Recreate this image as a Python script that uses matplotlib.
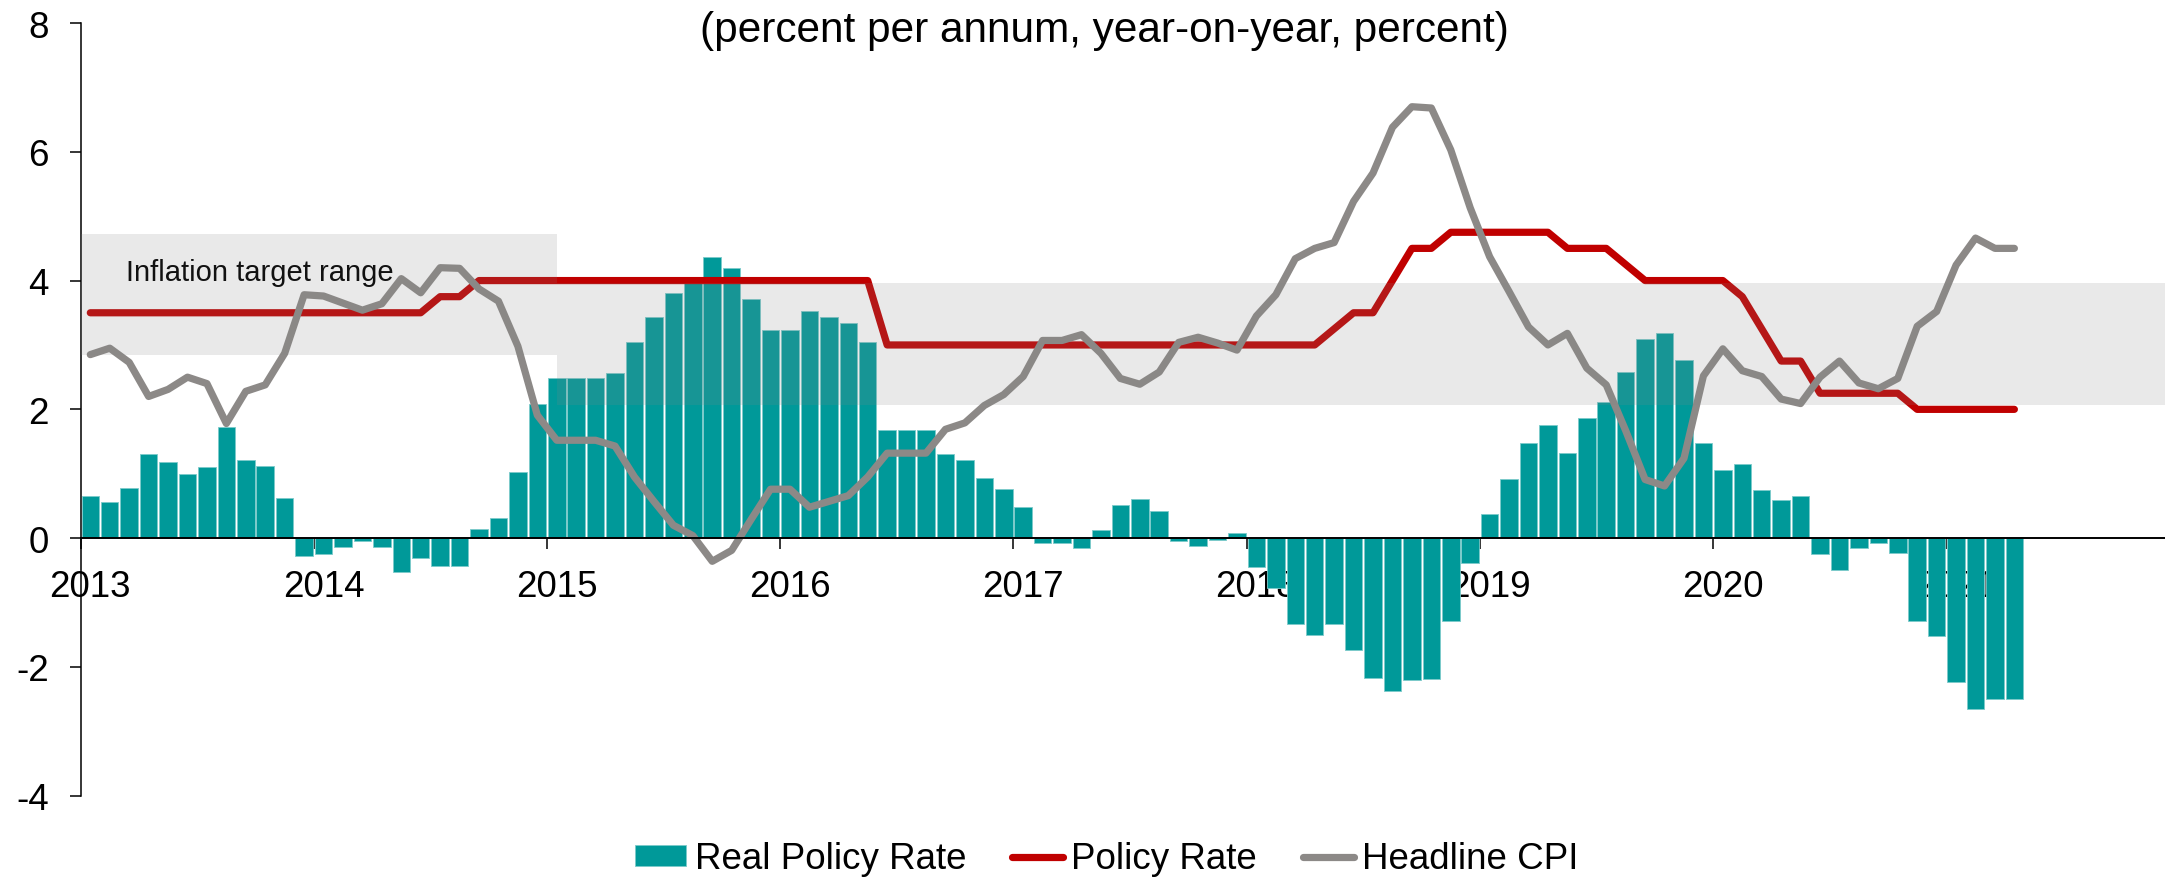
import matplotlib
matplotlib.use("Agg")
import matplotlib.pyplot as plt
import numpy as np

plt.rcParams["font.family"] = ["Liberation Sans", "DejaVu Sans"]

# monthly data, Jan 2013 - Apr 2021
years = ["2013", "2014", "2015", "2016", "2017", "2018", "2019", "2020", "2021"]

real_policy_rate = [
    0.66, 0.56, 0.78, 1.30, 1.19, 1.00, 1.10, 1.72, 1.22, 1.12, 0.63, -0.27,
    -0.25, -0.14, -0.04, -0.13, -0.53, -0.31, -0.44, -0.43, 0.14, 0.32, 1.02, 2.09,
    2.48, 2.48, 2.48, 2.57, 3.05, 3.43, 3.80, 3.96, 4.36, 4.19, 3.71, 3.24,
    3.24, 3.52, 3.43, 3.34, 3.05, 1.68, 1.68, 1.68, 1.31, 1.21, 0.94, 0.77,
    0.49, -0.07, -0.07, -0.16, 0.13, 0.52, 0.61, 0.42, -0.04, -0.12, -0.03, 0.08,
    -0.45, -0.78, -1.34, -1.50, -1.34, -1.73, -2.17, -2.38, -2.20, -2.18, -1.28, -0.38,
    0.38, 0.92, 1.47, 1.75, 1.32, 1.86, 2.12, 2.58, 3.09, 3.19, 2.76, 1.48,
    1.06, 1.15, 0.74, 0.59, 0.66, -0.25, -0.50, -0.16, -0.07, -0.23, -1.29, -1.52,
    -2.24, -2.66, -2.50, -2.50,
]

policy_rate = [
    3.5, 3.5, 3.5, 3.5, 3.5, 3.5, 3.5, 3.5, 3.5, 3.5, 3.5, 3.5,
    3.5, 3.5, 3.5, 3.5, 3.5, 3.5, 3.75, 3.75, 4.0, 4.0, 4.0, 4.0,
    4.0, 4.0, 4.0, 4.0, 4.0, 4.0, 4.0, 4.0, 4.0, 4.0, 4.0, 4.0,
    4.0, 4.0, 4.0, 4.0, 4.0, 3.0, 3.0, 3.0, 3.0, 3.0, 3.0, 3.0,
    3.0, 3.0, 3.0, 3.0, 3.0, 3.0, 3.0, 3.0, 3.0, 3.0, 3.0, 3.0,
    3.0, 3.0, 3.0, 3.0, 3.25, 3.5, 3.5, 4.0, 4.5, 4.5, 4.75, 4.75,
    4.75, 4.75, 4.75, 4.75, 4.5, 4.5, 4.5, 4.25, 4.0, 4.0, 4.0, 4.0,
    4.0, 3.75, 3.25, 2.75, 2.75, 2.25, 2.25, 2.25, 2.25, 2.25, 2.0, 2.0,
    2.0, 2.0, 2.0, 2.0,
]

headline_cpi = [
    2.85, 2.95, 2.73, 2.20, 2.31, 2.50, 2.40, 1.78, 2.28, 2.38, 2.87, 3.78,
    3.76, 3.65, 3.54, 3.64, 4.03, 3.81, 4.20, 4.19, 3.87, 3.68, 2.98, 1.91,
    1.52, 1.52, 1.52, 1.43, 0.95, 0.57, 0.20, 0.04, -0.36, -0.19, 0.29, 0.76,
    0.76, 0.48, 0.57, 0.66, 0.95, 1.32, 1.32, 1.32, 1.69, 1.79, 2.06, 2.23,
    2.51, 3.07, 3.07, 3.16, 2.87, 2.48, 2.39, 2.58, 3.04, 3.12, 3.03, 2.92,
    3.45, 3.78, 4.34, 4.50, 4.59, 5.23, 5.67, 6.38, 6.70, 6.68, 6.03, 5.13,
    4.37, 3.83, 3.28, 3.00, 3.18, 2.64, 2.38, 1.67, 0.91, 0.81, 1.24, 2.52,
    2.94, 2.60, 2.51, 2.16, 2.09, 2.50, 2.75, 2.41, 2.32, 2.48, 3.29, 3.52,
    4.24, 4.66, 4.50, 4.50,
]

# inflation target range (two regimes), start month index of each regime
target_start = [0, 24.5]
target_low = [2.85, 2.07]
target_high = [4.73, 3.96]

n_months = 108  # axis runs through Dec 2021
x = np.arange(len(real_policy_rate)) + 0.5

fig = plt.figure(figsize=(21.65, 8.79), dpi=100)
ax = fig.add_axes([80.6 / 2165, 82.3 / 879, 1 - 80.6 / 2165, (879 - 24 - 82.3) / 879])

bars = ax.bar(x, real_policy_rate, width=0.9, color="#009999",
              edgecolor="#7ccaca", linewidth=0.6, zorder=2,
              label="Real Policy Rate")
line_p, = ax.plot(x, policy_rate, color="#c00000", lw=5.2,
                  solid_capstyle="round", solid_joinstyle="round", zorder=3,
                  label="Policy Rate")
line_c, = ax.plot(x, headline_cpi, color="#8c8987", lw=5.2,
                  solid_capstyle="round", solid_joinstyle="round", zorder=3,
                  label="Headline CPI")

xmax = n_months - 0.75
ax.set_xlim(0, xmax)
ax.set_ylim(-4, 8)

# shaded target range, drawn over the series like the original
ends = target_start[1:] + [xmax]
for s, e, lo, hi in zip(target_start, ends, target_low, target_high):
    ax.fill_between([s, e], lo, hi, color="#858585", alpha=0.18,
                    linewidth=0, zorder=4)

ax.text(2.34, 4.14, "Inflation target range", fontsize=21, color="#111111",
        ha="left", va="center", zorder=5)

# axes styling
for side in ["top", "right"]:
    ax.spines[side].set_visible(False)
ax.spines["bottom"].set_position(("data", 0))
ax.spines["bottom"].set_linewidth(1.4)
ax.spines["bottom"].set_zorder(3.5)
ax.spines["left"].set_linewidth(1.1)

ax.set_yticks(np.arange(-4, 9, 2))
ax.set_yticklabels([str(v) for v in range(-4, 9, 2)])
ax.tick_params(axis="y", direction="out", length=8, width=1.1,
               labelsize=26.5, pad=15)

ax.set_xticks(np.arange(0, n_months, 12))
ax.set_xticklabels([])
ax.set_xticks(np.arange(len(years)) * 12 + 0.5, minor=True)
ax.set_xticklabels(years, minor=True)
ax.tick_params(axis="x", which="major", direction="out", length=8, width=1.1)
ax.tick_params(axis="x", which="minor", length=0, labelsize=26.5, pad=22)

fig.text(1104 / 2165, 1 - 31 / 879, "(percent per annum, year-on-year, percent)",
         fontsize=30.5, ha="center", va="center")

leg = fig.legend(handles=[bars, line_p, line_c], loc="center",
                 bbox_to_anchor=(1107 / 2165, 19 / 879), ncol=3, frameon=False,
                 fontsize=26.5, handlelength=1.39, handleheight=0.52,
                 handletextpad=0.22, columnspacing=1.25,
                 borderaxespad=0, borderpad=0)
for h in leg.legend_handles[1:]:
    h.set_solid_capstyle("round")

fig.savefig("out.png", dpi=100)
